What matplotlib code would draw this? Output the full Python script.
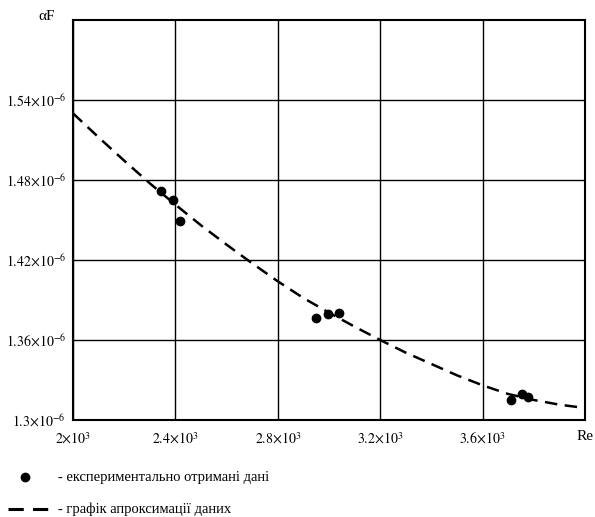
import matplotlib
matplotlib.use("Agg")
import matplotlib.pyplot as plt
from matplotlib.lines import Line2D

plt.rcParams['font.family'] = ['Liberation Serif', 'DejaVu Serif']
plt.rcParams['mathtext.fontset'] = 'stix'

# experimental data (Re, alpha_F)
re_exp = [2342, 2392, 2419, 2951, 2998, 3041, 3712, 3755, 3778]
af_exp = [1.472e-6, 1.465e-6, 1.449e-6, 1.3765e-6, 1.3795e-6, 1.3803e-6,
          1.315e-6, 1.3195e-6, 1.3175e-6]

# approximation curve
re_fit = [2000, 2100, 2200, 2300, 2400, 2500, 2600, 2700, 2800, 2900, 3000,
          3100, 3200, 3300, 3400, 3500, 3600, 3700, 3800, 3900, 4000]
af_fit = [1.530e-6, 1.512e-6, 1.4945e-6, 1.4775e-6, 1.4615e-6, 1.446e-6, 1.4315e-6,
          1.4175e-6, 1.404e-6, 1.3915e-6, 1.3805e-6, 1.370e-6, 1.360e-6, 1.3505e-6,
          1.342e-6, 1.3335e-6, 1.326e-6, 1.3195e-6, 1.315e-6, 1.3115e-6, 1.309e-6]

x_ticks = [2000, 2400, 2800, 3200, 3600]
x_labels = [r'$2{\times}10^{3}$', r'$2.4{\times}10^{3}$', r'$2.8{\times}10^{3}$',
            r'$3.2{\times}10^{3}$', r'$3.6{\times}10^{3}$']
y_ticks = [1.30e-6, 1.36e-6, 1.42e-6, 1.48e-6, 1.54e-6]
y_labels = [r'$1.3{\times}10^{-6}$', r'$1.36{\times}10^{-6}$', r'$1.42{\times}10^{-6}$',
            r'$1.48{\times}10^{-6}$', r'$1.54{\times}10^{-6}$']

fig = plt.figure(figsize=(5.95, 5.17), dpi=100)
ax = fig.add_axes([73/595, 97/517, 512/595, 400/517])

ax.plot(re_fit, af_fit, color='black', lw=1.8, linestyle=(0, (5, 3)), zorder=3)
ax.plot(re_exp, af_exp, 'o', color='black', ms=6, zorder=4)

ax.set_xlim(2000, 4000)
ax.set_ylim(1.30e-6, 1.60e-6)
ax.set_xticks(x_ticks)
ax.set_xticklabels(x_labels, fontsize=10)
ax.set_yticks(y_ticks)
ax.set_yticklabels(y_labels, fontsize=10)
ax.tick_params(axis='x', length=0, pad=8)
ax.tick_params(axis='y', length=0, pad=5)
ax.grid(True, color='black', lw=1.0)
ax.set_axisbelow(True)
for s in ax.spines.values():
    s.set_linewidth(1.5)

fig.text(585/595, 1 - 437/517, 'Re', ha='center', va='center', fontsize=11)
fig.text(47/595, 1 - 17/517, 'αF', ha='center', va='center', fontsize=11)

# legend below
fig.add_artist(Line2D([25/595], [1 - 477/517], marker='o', color='black', ms=6,
                      linestyle='none', transform=fig.transFigure))
fig.text(58/595, 1 - 477/517, '- експериментально отримані дані', ha='left',
         va='center', fontsize=10.5)
fig.add_artist(Line2D([8/595, 48/595], [1 - 509/517, 1 - 509/517], color='black',
                      lw=2.2, linestyle=(0, (5, 3)), transform=fig.transFigure))
fig.text(58/595, 1 - 509/517, '- графік апроксимації даних', ha='left',
         va='center', fontsize=10.5)

fig.savefig('out.png', dpi=100)
